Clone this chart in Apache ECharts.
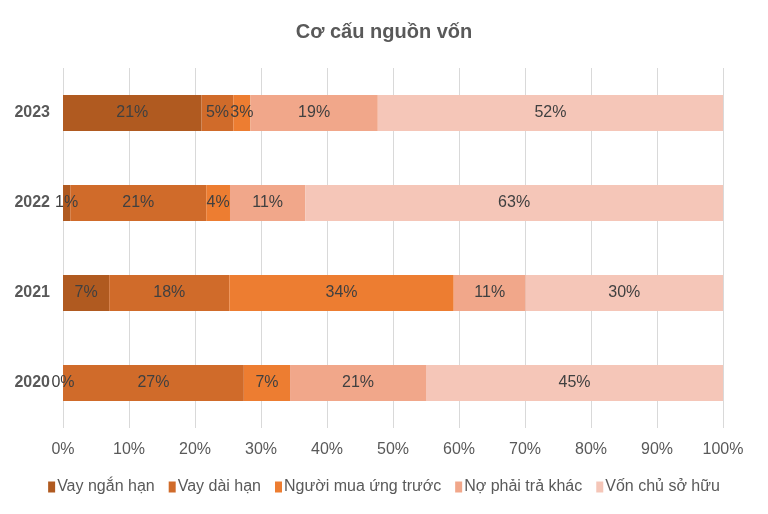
<!DOCTYPE html>
<html><head><meta charset="utf-8">
<script src="https://cdn.jsdelivr.net/npm/echarts@6/dist/echarts.min.js"></script>
<style>html,body{margin:0;padding:0;background:#fff}#c{width:768px;height:514px}</style>
</head><body><div id="c"></div>
<script>
const categories = ['2020', '2021', '2022', '2023'];
const seriesNames = ['Vay ngắn hạn', 'Vay dài hạn', 'Người mua ứng trước', 'Nợ phải trả khác', 'Vốn chủ sở hữu'];
const vayNganHan = [0.0, 7.0, 1.1, 21.0];
const vayDaiHan = [27.4, 18.2, 20.6, 4.8];
const nguoiMuaUngTruoc = [7.0, 34.0, 3.6, 2.6];
const noPhaiTraKhac = [20.6, 10.9, 11.4, 19.3];
const vonChuSoHuu = [45.0, 29.9, 63.3, 52.3];
const xTicks = [0, 10, 20, 30, 40, 50, 60, 70, 80, 90, 100];
const colors = ['#B05A20', '#D06B2A', '#ED7D31', '#F1A78A', '#F5C6B8'];
const seriesData = [vayNganHan, vayDaiHan, nguoiMuaUngTruoc, noPhaiTraKhac, vonChuSoHuu];
const font = 'Liberation Sans, Arial, sans-serif';
const chart = echarts.init(document.getElementById('c'));
chart.setOption({
  animation: false,
  title: {text: 'Cơ cấu nguồn vốn', left: 'center', top: 17,
    textStyle: {fontFamily: font, fontSize: 20, fontWeight: 'bold', color: '#595959'}},
  legend: {bottom: 14, left: 'center', itemWidth: 7, itemHeight: 11, itemGap: 14,
    icon: 'rect', textStyle: {fontFamily: font, fontSize: 16, color: '#595959', padding: [0,0,0,-3]},
    data: seriesNames},
  grid: {left: 63, right: 45, top: 68, height: 360, containLabel: false},
  xAxis: {type: 'value', min: xTicks[0], max: xTicks[xTicks.length-1], interval: 10,
    axisLine: {show: false}, axisTick: {show: false},
    splitLine: {lineStyle: {color: '#D9D9D9', width: 1}},
    axisLabel: {formatter: v => v + '%', fontFamily: font, fontSize: 16, color: '#595959', margin: 14}},
  yAxis: {type: 'category', data: categories,
    axisLine: {show: false}, axisTick: {show: false},
    axisLabel: {fontFamily: font, fontSize: 16, fontWeight: 'bold', color: '#595959', margin: 13}},
  series: seriesNames.map((n, i) => ({
    name: n, type: 'bar', stack: 'total', barCategoryGap: '60%',
    itemStyle: {color: colors[i]},
    label: {show: true, position: 'inside', formatter: p => Math.round(p.value) + '%',
      fontFamily: font, fontSize: 16, color: '#404040'},
    data: seriesData[i]
  }))
});
</script></body></html>
